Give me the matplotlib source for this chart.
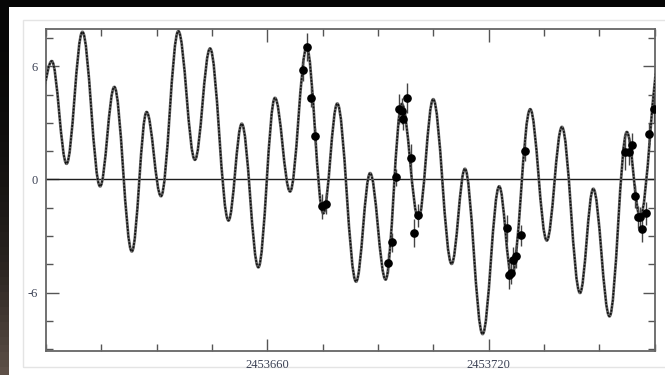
import numpy as np
import matplotlib
matplotlib.use("Agg")
import matplotlib.pyplot as plt
from matplotlib.path import Path
from matplotlib.patches import PathPatch, Rectangle

jd_base = 2453600

curve_day = [-2.7, 1.6, 5.6, 9.9, 14.7, 18.55, 23.3, 27.3, 31.2, 35.9, 40.4, 44.5,
             49.5, 53.1, 57.6, 62.1, 66.2, 70.7, 75.2, 79.0, 84.1, 87.9, 92.1, 96.5,
             101.0, 105.0, 110.0, 113.6, 118.4, 122.9, 126.3, 131.3, 135.8, 139.9,
             144.8, 148.4, 152.8, 157.5, 161.1, 166.5]
curve_rv = [3.0, 6.27, 0.83, 7.82, -0.37, 4.90, -3.82, 3.57, -0.89, 7.86, 1.04, 6.94,
            -2.18, 2.95, -4.66, 4.32, -0.64, 7.0, -1.8, 4.02, -5.42, 0.33, -5.31, 4.0,
            -2.09, 4.25, -4.48, 0.56, -8.2, -0.37, -5.17, 3.72, -3.24, 2.78,
            -6.02, -0.50, -7.26, 2.51, -1.98, 6.6]

# observations
obs_day = [69.8, 70.9, 71.8, 73.0, 74.8, 75.9,
           92.8, 93.9, 94.8, 95.8, 96.6, 96.9, 98.0, 98.9, 99.9, 101.0,
           124.9, 125.6, 126.0, 126.6, 127.5, 128.7, 130.0,
           157.1, 158.2, 158.8, 159.6, 160.4, 161.0, 161.6, 162.6, 163.6, 164.8]
obs_rv = [5.79, 7.03, 4.33, 2.28, -1.43, -1.29,
          -4.43, -3.33, 0.12, 3.72, 3.61, 3.22, 4.32, 1.15, -2.83, -1.91,
          -2.6, -5.06, -4.95, -4.3, -4.08, -2.97, 1.49,
          1.45, 1.47, 1.84, -0.9, -2.0, -2.0, -2.64, -1.8, 2.39, 3.74]
obs_err = [0.6, 0.75, 0.5, 0.45, 0.65, 0.55,
           0.55, 0.5, 0.45, 0.8, 0.7, 0.6, 0.8, 0.7, 0.75, 0.6,
           0.7, 0.75, 0.6, 0.7, 0.6, 0.55, 0.5,
           0.95, 0.7, 0.6, 0.6, 0.6, 0.55, 0.7, 0.6, 0.6, 0.75]

x_major = [2453660, 2453720]
y_major = [-6, 0, 6]

fig = plt.figure(figsize=(6.65, 3.75), dpi=100, facecolor="#060606")
fig.patches.append(Rectangle((8.5 / 665, 0), 1, 1 - 7 / 375, transform=fig.transFigure,
                             facecolor="white", edgecolor="none", zorder=-10))
fig.patches.append(Rectangle((23 / 665, 1 - 367 / 375), 1, (367 - 20) / 375,
                             transform=fig.transFigure, facecolor="none",
                             edgecolor="#e4e4e4", lw=1, zorder=-9))

# dark photo strip showing on the left edge
strip = fig.add_axes([0, 0, 8.5 / 665, 1], zorder=-20)
strip.imshow(np.linspace(0, 1, 50)[:, None] ** 2, cmap=matplotlib.colors.LinearSegmentedColormap.from_list(
    "bg", ["#070707", "#2a2420", "#5e5048"]), aspect="auto", origin="upper")
strip.axis("off")

ax = fig.add_axes([45.9 / 665, 1 - 351 / 375, (654.5 - 45.9) / 665, (351 - 28.5) / 375])
ax.set_facecolor("white")

# smooth model curve: cubic Bezier segments with flat tangents at each extremum
xs = [jd_base + d for d in curve_day]
verts = [(xs[0], curve_rv[0])]
codes = [Path.MOVETO]
k = 0.363
for i in range(len(xs) - 1):
    x0, y0, x1, y1 = xs[i], curve_rv[i], xs[i + 1], curve_rv[i + 1]
    dx = x1 - x0
    verts += [(x0 + k * dx, y0), (x1 - k * dx, y1), (x1, y1)]
    codes += [Path.CURVE4] * 3
model = Path(verts, codes)
ax.add_patch(PathPatch(model, facecolor="none", edgecolor="#6a6a6a", lw=2.0, zorder=3))
ax.add_patch(PathPatch(model, facecolor="none", edgecolor="#111111", lw=1.2,
                       linestyle=(0, (1.2, 0.8)), zorder=3))

ax.axhline(0, color="#1e1e1e", lw=1.0, zorder=2)

ax.errorbar([jd_base + d for d in obs_day], obs_rv, yerr=obs_err, fmt="o",
            color="black", ms=5.2, ecolor="#444444", elinewidth=1.0, capsize=0, zorder=4)

ax.set_xlim(2453600, 2453765)
ax.set_ylim(-9.1, 8.0)
ax.set_xticks(x_major)
ax.set_xticklabels([str(v) for v in x_major])
ax.set_xticks(np.arange(2453600, 2453766, 15), minor=True)
ax.set_yticks(y_major)
ax.set_yticklabels([str(v) for v in y_major])
ax.set_yticks(np.arange(-9, 8.01, 1.5), minor=True)

ax.tick_params(which="both", direction="in", top=True, right=True, color="#555555",
               width=1.0, labelsize=9, labelcolor="#3c4255", pad=6)
ax.tick_params(which="major", length=9)
ax.tick_params(which="minor", length=5)
for lab in ax.get_xticklabels() + ax.get_yticklabels():
    lab.set_family("Liberation Serif")
for s in ax.spines.values():
    s.set_color("#666666")
    s.set_linewidth(1.3)

fig.savefig("out.png", dpi=100, facecolor=fig.get_facecolor())
